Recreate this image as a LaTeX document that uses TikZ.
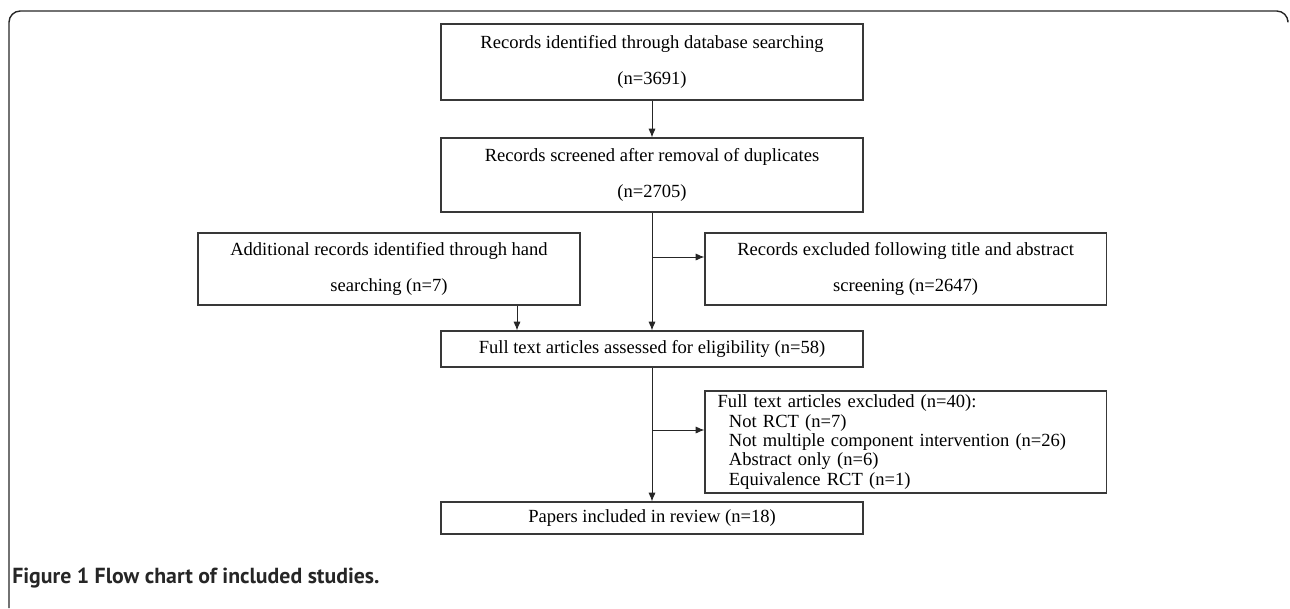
\documentclass[tikz,border=0pt]{standalone}
\usepackage{fontspec}
\setmainfont{Liberation Serif}
\newfontfamily\capfont{PT Sans}
\usetikzlibrary{positioning,arrows.meta,calc}
\tikzset{
  blk/.style   = {draw=black!78, line width=0.75pt, align=center, inner sep=2pt,
                  font=\fontsize{13.2}{25.5}\selectfont, minimum height=18mm},
  one/.style   = {blk, minimum height=9mm},
  lst/.style   = {blk, align=left, inner xsep=9pt, font=\fontsize{13.2}{13.8}\selectfont},
  ar/.style    = {-{Latex[length=2.2mm,width=1.8mm]}, line width=0.7pt, black!85},
  frm/.style   = {line width=1pt, black!85, rounded corners=8pt},
}

\begin{document}
\begin{tikzpicture}
  \useasboundingbox (0,0) rectangle (32.25,-15.2);
  % frame of the figure
  \draw[frm] (0.225,-15.2) -- (0.225,-0.275) -- (32.2,-0.275) -- (32.2,-0.5);

  \node[blk, minimum width=10.55cm, minimum height=1.9cm] (db) at (16.3,-1.55)
       {Records identified through database searching\\(n=3691)};
  \node[blk, minimum width=10.55cm, minimum height=1.85cm] (scr) at (16.3,-4.375)
       {Records screened after removal of duplicates\\(n=2705)};
  \node[blk, minimum width=9.55cm] (hand) at (9.725,-6.725)
       {Additional records identified through hand\\searching (n=7)};
  \node[blk, minimum width=10.03cm] (exa) at (22.64,-6.725)
       {Records excluded following title and abstract\\screening (n=2647)};
  \node[one, minimum width=10.55cm] (full) at (16.3,-8.725)
       {Full text articles assessed for eligibility (n=58)};
  \node[lst, text width=10.03cm-18pt, minimum height=2.55cm] (exf) at (22.64,-11.05)
       {Full text articles excluded (n=40):\\
        \hspace*{8pt}Not RCT (n=7)\\
        \hspace*{8pt}Not multiple component intervention (n=26)\\
        \hspace*{8pt}Abstract only (n=6)\\
        \hspace*{8pt}Equivalence RCT (n=1)};
  \node[one, minimum width=10.55cm, minimum height=0.8cm] (inc) at (16.3,-12.95)
       {Papers included in review (n=18)};

  \coordinate (j1) at (16.3,-6.425);
  \coordinate (j2) at (16.3,-10.75);
  \coordinate (h1) at (12.925,-7.6);

  \draw[ar] (db) -- (scr);
  \draw[ar] (scr) -- (full);
  \draw[ar] (j1) -- (j1 -| exa.west);
  \draw[ar] (hand.south -| h1) -- (full.north -| h1);
  \draw[ar] (full) -- (inc);
  \draw[ar] (j2) -- (j2 -| exf.west);

  \node[anchor=base west, font=\capfont\bfseries\fontsize{15.5}{17}\selectfont, text=black!85,
        inner sep=0pt] (cap) at (0.3,-14.575)
       {Figure 1 Flow chart of included studies.};
\end{tikzpicture}
\end{document}
